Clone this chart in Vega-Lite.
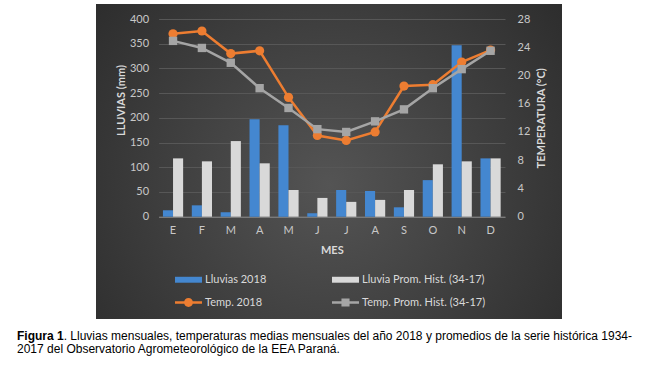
{
  "$schema": "https://vega.github.io/schema/vega-lite/v6.json",
  "width": 466,
  "height": 315,
  "autosize": {"type": "none"},
  "padding": {"left": 96, "top": 4, "right": 104, "bottom": 47},
  "background": "white",
  "config": {
    "font": "Lato",
    "view": {
      "fill": {"gradient": "radial", "x1": 0.5, "y1": 0.55, "x2": 0.5, "y2": 0.55, "r1": 0, "r2": 0.75,
        "stops": [{"offset": 0, "color": "#545454"}, {"offset": 1, "color": "#262626"}]},
      "stroke": null
    },
    "axis": {
      "labelFont": "Lato", "labelFontSize": 11, "labelColor": "#c8c8c8",
      "titleFont": "Lato", "titleFontSize": 11, "titleColor": "#d9d9d9", "titleFontWeight": "bold",
      "ticks": false, "domain": false, "gridColor": "#575757", "gridWidth": 1
    }
  },
  "title": {
    "text": "Figura 1",
    "subtitle": ["\u200b\u00a0\u00a0\u00a0\u00a0\u00a0\u00a0\u00a0\u00a0\u00a0\u00a0\u00a0\u00a0\u00a0\u00a0. Lluvias mensuales, temperaturas medias mensuales del año 2018 y promedios de la serie histórica 1934-", "2017 del Observatorio Agrometeorológico de la EEA Paraná."],
    "orient": "bottom", "anchor": "start", "dx": -79, "offset": 12,
    "font": "Liberation Sans", "fontSize": 12, "fontWeight": "bold", "color": "black",
    "subtitleFont": "Liberation Sans", "subtitleFontSize": 12, "subtitleColor": "black", "subtitleFontWeight": "normal",
    "subtitlePadding": -12, "subtitleLineHeight": 12.5
  },
  "data": {"values": [
    {"m": 1, "serie": "Lluvias 2018", "valor": 13},
    {"m": 2, "serie": "Lluvias 2018", "valor": 23},
    {"m": 3, "serie": "Lluvias 2018", "valor": 9},
    {"m": 4, "serie": "Lluvias 2018", "valor": 197},
    {"m": 5, "serie": "Lluvias 2018", "valor": 185},
    {"m": 6, "serie": "Lluvias 2018", "valor": 7},
    {"m": 7, "serie": "Lluvias 2018", "valor": 54},
    {"m": 8, "serie": "Lluvias 2018", "valor": 52},
    {"m": 9, "serie": "Lluvias 2018", "valor": 19},
    {"m": 10, "serie": "Lluvias 2018", "valor": 74},
    {"m": 11, "serie": "Lluvias 2018", "valor": 347},
    {"m": 12, "serie": "Lluvias 2018", "valor": 118},
    {"m": 1, "serie": "Lluvia Prom. Hist. (34-17)", "valor": 118},
    {"m": 2, "serie": "Lluvia Prom. Hist. (34-17)", "valor": 112},
    {"m": 3, "serie": "Lluvia Prom. Hist. (34-17)", "valor": 153},
    {"m": 4, "serie": "Lluvia Prom. Hist. (34-17)", "valor": 108},
    {"m": 5, "serie": "Lluvia Prom. Hist. (34-17)", "valor": 54},
    {"m": 6, "serie": "Lluvia Prom. Hist. (34-17)", "valor": 38},
    {"m": 7, "serie": "Lluvia Prom. Hist. (34-17)", "valor": 30},
    {"m": 8, "serie": "Lluvia Prom. Hist. (34-17)", "valor": 34},
    {"m": 9, "serie": "Lluvia Prom. Hist. (34-17)", "valor": 54},
    {"m": 10, "serie": "Lluvia Prom. Hist. (34-17)", "valor": 106},
    {"m": 11, "serie": "Lluvia Prom. Hist. (34-17)", "valor": 112},
    {"m": 12, "serie": "Lluvia Prom. Hist. (34-17)", "valor": 118},
    {"m": 1, "serie": "Temp. 2018", "valor": 25.9},
    {"m": 2, "serie": "Temp. 2018", "valor": 26.3},
    {"m": 3, "serie": "Temp. 2018", "valor": 23.1},
    {"m": 4, "serie": "Temp. 2018", "valor": 23.5},
    {"m": 5, "serie": "Temp. 2018", "valor": 16.9},
    {"m": 6, "serie": "Temp. 2018", "valor": 11.5},
    {"m": 7, "serie": "Temp. 2018", "valor": 10.8},
    {"m": 8, "serie": "Temp. 2018", "valor": 12.0},
    {"m": 9, "serie": "Temp. 2018", "valor": 18.5},
    {"m": 10, "serie": "Temp. 2018", "valor": 18.7},
    {"m": 11, "serie": "Temp. 2018", "valor": 21.9},
    {"m": 12, "serie": "Temp. 2018", "valor": 23.6},
    {"m": 1, "serie": "Temp. Prom. Hist. (34-17)", "valor": 24.9},
    {"m": 2, "serie": "Temp. Prom. Hist. (34-17)", "valor": 23.9},
    {"m": 3, "serie": "Temp. Prom. Hist. (34-17)", "valor": 21.8},
    {"m": 4, "serie": "Temp. Prom. Hist. (34-17)", "valor": 18.2},
    {"m": 5, "serie": "Temp. Prom. Hist. (34-17)", "valor": 15.4},
    {"m": 6, "serie": "Temp. Prom. Hist. (34-17)", "valor": 12.4},
    {"m": 7, "serie": "Temp. Prom. Hist. (34-17)", "valor": 12.0},
    {"m": 8, "serie": "Temp. Prom. Hist. (34-17)", "valor": 13.5},
    {"m": 9, "serie": "Temp. Prom. Hist. (34-17)", "valor": 15.2},
    {"m": 10, "serie": "Temp. Prom. Hist. (34-17)", "valor": 18.2},
    {"m": 11, "serie": "Temp. Prom. Hist. (34-17)", "valor": 20.9},
    {"m": 12, "serie": "Temp. Prom. Hist. (34-17)", "valor": 23.5}
  ]},
  "encoding": {
    "x": {
      "field": "m", "type": "ordinal",
      "scale": {"range": [62.6, 409], "paddingInner": 0.3, "paddingOuter": 0.15},
      "axis": {
        "title": "MES", "labelAngle": 0, "labelPadding": 8, "titlePadding": 9,
        "domain": true, "domainColor": "#8a8a8a", "domainWidth": 1, "offset": -102.3,
        "labelExpr": "substring('EFMAMJJASOND', datum.value - 1, datum.value)"
      }
    },
    "color": {
      "field": "serie", "type": "nominal",
      "scale": {
        "domain": ["Lluvias 2018", "Lluvia Prom. Hist. (34-17)", "Temp. 2018", "Temp. Prom. Hist. (34-17)"],
        "range": ["#4487d0", "#d9d9d9", "#ed7d31", "#a5a5a5"]
      },
      "legend": {
        "title": null, "orient": "none", "legendX": 79, "legendY": 262,
        "direction": "horizontal",
        "columns": 2, "columnPadding": 65, "rowPadding": 4,
        "labelFont": "Lato", "labelFontSize": 11, "labelColor": "#d9d9d9", "labelOffset": 3,
        "symbolSize": 729,
        "encode": {
          "symbols": {
            "update": {
              "shape": [
                {"test": "datum.index < 2", "value": "M-1,-0.22H1V0.22H-1Z"},
                {"test": "datum.index == 2", "value": "M-1,-0.1H1V0.1H-1Z M0.33,0A0.33,0.33 0 1,1 -0.33,0A0.33,0.33 0 1,1 0.33,0Z"},
                {"value": "M-1,-0.1H1V0.1H-1Z M-0.3,-0.3H0.3V0.3H-0.3Z"}
              ],
              "fill": {"scale": "color", "field": "value"},
              "fillOpacity": {"value": 1},
              "stroke": {"value": "transparent"},
              "strokeWidth": {"value": 0}
            }
          }
        }
      }
    }
  },
  "layer": [
    {
      "transform": [{"filter": "test(/^Lluvi/, datum.serie)"}],
      "mark": {"type": "bar"},
      "encoding": {
        "xOffset": {"field": "serie", "type": "nominal", "sort": ["Lluvias 2018", "Lluvia Prom. Hist. (34-17)"], "scale": {"paddingInner": 0}},
        "y": {
          "field": "valor", "type": "quantitative",
          "scale": {"domain": [0, 400], "range": [212.7, 15], "nice": false},
          "axis": {
            "title": "LLUVIAS  (mm)", "orient": "left", "values": [0, 50, 100, 150, 200, 250, 300, 350, 400],
            "grid": true, "offset": -62.6, "labelPadding": 10, "titlePadding": 3, "titleY": 96
          }
        }
      }
    },
    {
      "encoding": {
        "y": {
          "field": "valor", "type": "quantitative",
          "scale": {"domain": [0, 28], "range": [212.7, 15], "nice": false},
          "axis": {
            "title": "TEMPERATURA (°C)", "orient": "right", "values": [0, 4, 8, 12, 16, 20, 24, 28],
            "grid": false, "offset": -57, "labelPadding": 12, "titlePadding": 17, "titleAngle": -90
          }
        }
      },
      "layer": [
        {
          "transform": [{"filter": "datum.serie == 'Temp. 2018'"}],
          "mark": {"type": "line", "strokeWidth": 2.5, "point": {"filled": true, "size": 85, "shape": "circle", "opacity": 1}}
        },
        {
          "transform": [{"filter": "datum.serie == 'Temp. Prom. Hist. (34-17)'"}],
          "mark": {"type": "line", "strokeWidth": 2.5, "point": {"filled": true, "size": 70, "shape": "square", "opacity": 1}}
        }
      ]
    }
  ],
  "resolve": {"scale": {"y": "independent"}}
}
